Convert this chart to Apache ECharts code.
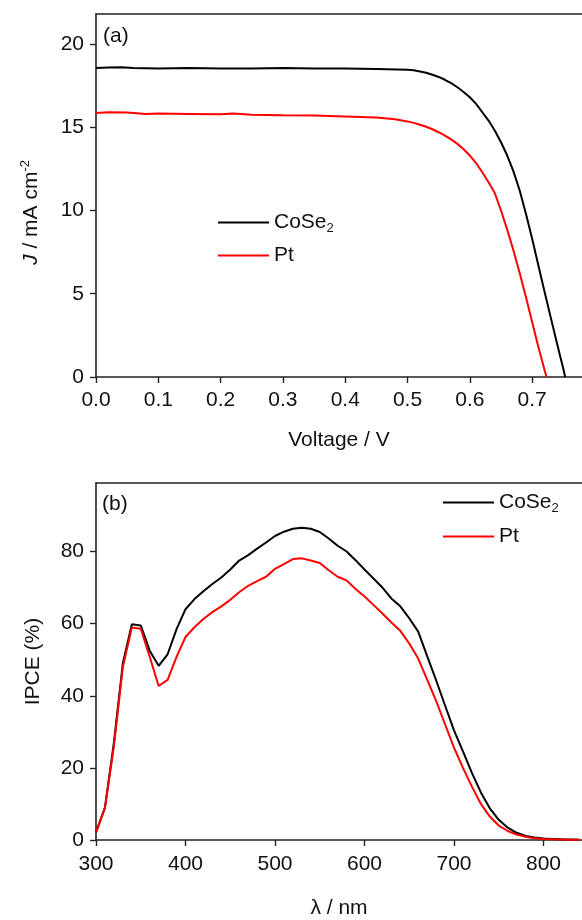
<!DOCTYPE html>
<html><head><meta charset="utf-8">
<script src="https://cdn.jsdelivr.net/npm/echarts@6/dist/echarts.min.js"></script>
<style>html,body{margin:0;padding:0;background:#fff}#c{width:582px;height:920px}</style>
</head><body><div id="c"></div>
<script>
// ---- Panel (a): J-V curves ----
const voltageCoSe2 = [0,0.02,0.04,0.06,0.1,0.15,0.2,0.25,0.3,0.35,0.4,0.45,0.5,0.51,0.52,0.53,0.54,0.55,0.56,0.57,0.58,0.59,0.6,0.61,0.62,0.63,0.64,0.65,0.66,0.67,0.68,0.69,0.7,0.71,0.72,0.73,0.74,0.75,0.753];
const jCoSe2 = [18.55,18.58,18.6,18.55,18.52,18.55,18.52,18.53,18.55,18.52,18.53,18.5,18.45,18.42,18.35,18.27,18.15,18.02,17.85,17.65,17.4,17.12,16.8,16.4,15.9,15.4,14.8,14.1,13.3,12.35,11.2,9.8,8.3,6.7,5.1,3.55,2.0,0.5,0];
const voltagePt = [0,0.02,0.05,0.08,0.1,0.15,0.2,0.22,0.25,0.3,0.35,0.4,0.45,0.48,0.5,0.51,0.52,0.53,0.54,0.55,0.56,0.57,0.58,0.59,0.6,0.61,0.62,0.63,0.64,0.65,0.66,0.67,0.68,0.69,0.7,0.71,0.72,0.723];
const jPt = [15.85,15.9,15.88,15.8,15.82,15.8,15.78,15.82,15.75,15.72,15.7,15.65,15.58,15.48,15.35,15.26,15.15,15.03,14.88,14.7,14.5,14.27,14.0,13.68,13.3,12.85,12.3,11.7,11.05,10.0,8.85,7.6,6.25,4.8,3.3,1.8,0.4,0];
const voltageTicks = [0,0.1,0.2,0.3,0.4,0.5,0.6,0.7];
const jTicks = [0,5,10,15,20];

// ---- Panel (b): IPCE spectra ----
const wavelength = [300,310,320,330,340,350,360,370,380,390,400,410,420,430,440,450,460,470,480,490,500,510,520,530,540,550,560,570,580,590,600,610,620,630,640,650,660,670,680,690,700,710,720,730,740,750,760,770,780,790,800,810,820,830,840];
const ipceCoSe2 = [2.1,9,27,49,59.8,59.5,52.5,48.3,51.5,58.5,64,66.8,69,71,72.8,75,77.5,79,80.8,82.5,84.3,85.5,86.3,86.6,86.3,85.4,83.6,81.6,80,77.6,75,72.5,70,67,64.8,61.5,57.8,51,44.3,37.3,30.4,24.6,18.6,13.2,8.8,5.6,3.4,2.0,1.1,0.7,0.4,0.3,0.2,0.15,0.1];
const ipcePt = [2.1,8.9,26,48,58.9,58.6,50.8,42.7,44.4,50.8,56.3,59,61.3,63.2,64.8,66.6,68.7,70.5,71.8,73,75.2,76.5,77.9,78.1,77.5,76.8,74.8,73,72,69.6,67.5,65.2,62.8,60.3,58,54.5,50.3,44.5,38.6,32.1,25.6,20,14.8,10,6.5,4.0,2.5,1.5,0.9,0.5,0.3,0.2,0.15,0.1,0.1];
const wavelengthTicks = [300,400,500,600,700,800];
const ipceTicks = [0,20,40,60,80];

const FONT = "'Liberation Sans', Arial, sans-serif";
const AX = '#222';
const zip = (xs, ys) => xs.map((x, i) => [x, ys[i]]);

function xAxisBase(grid, min, max, ticks, fmt, name, gap, margin) {
  return {
    type: 'value', gridIndex: grid, min: min, max: max, position: 'bottom',
    name: name, nameLocation: 'middle', nameGap: gap,
    nameTextStyle: { fontFamily: FONT, fontSize: 21, color: '#111' },
    axisLine: { show: true, onZero: false, lineStyle: { color: AX, width: 1.6 } },
    axisTick: { show: true, length: 6, lineStyle: { color: AX, width: 1.4 }, customValues: ticks },
    axisLabel: { fontFamily: FONT, fontSize: 21, color: '#111', margin: margin, customValues: ticks, formatter: fmt },
    splitLine: { show: false }
  };
}
function topBorder(grid, min, max) {
  return {
    type: 'value', gridIndex: grid, min: min, max: max, position: 'top',
    axisLine: { show: true, onZero: false, lineStyle: { color: AX, width: 1.6 } },
    axisTick: { show: false }, axisLabel: { show: false }, splitLine: { show: false }
  };
}
function yAxisBase(grid, min, max, ticks, name, rich, pad) {
  return {
    type: 'value', gridIndex: grid, min: min, max: max,
    name: name, nameLocation: 'middle', nameGap: 52,
    nameTextStyle: { fontFamily: FONT, fontSize: 21, color: '#111', rich: rich, padding: pad },
    axisLine: { show: true, onZero: false, lineStyle: { color: AX, width: 1.6 } },
    axisTick: { show: true, length: 6, lineStyle: { color: AX, width: 1.4 }, customValues: ticks },
    axisLabel: { fontFamily: FONT, fontSize: 21, color: '#111', margin: 12, customValues: ticks },
    splitLine: { show: false }
  };
}

const legendRich = {
  a: { fontFamily: FONT, fontSize: 21, color: '#111', lineHeight: 24 },
  s: { fontFamily: FONT, fontSize: 13, color: '#111', lineHeight: 24, padding: [12, 0, 0, 0] }
};
const legendFmt = n => n === 'CoSe2' ? '{a|CoSe}{s|2}' : '{a|' + n + '}';

const chart = echarts.init(document.getElementById('c'), null, { renderer: 'canvas' });
chart.setOption({
  backgroundColor: '#fff',
  animation: false,
  title: [
    { text: '(a)', left: 103, top: 26, padding: 0, textStyle: { fontFamily: FONT, fontSize: 21, fontWeight: 'normal', color: '#111' } },
    { text: '(b)', left: 102, top: 494, padding: 0, textStyle: { fontFamily: FONT, fontSize: 21, fontWeight: 'normal', color: '#111' } }
  ],
  legend: [
    { data: ['CoSe2', 'Pt'], orient: 'vertical', left: 218, top: 210, padding: 0, itemWidth: 51, itemHeight: 2, itemGap: 10, icon: 'rect',
      formatter: legendFmt, textStyle: { rich: legendRich }, selectedMode: false },
    { data: ['CoSe2', 'Pt'], orient: 'vertical', left: 443, top: 490, padding: 0, itemWidth: 51, itemHeight: 2, itemGap: 11, icon: 'rect',
      formatter: legendFmt, textStyle: { rich: legendRich }, selectedMode: false }
  ],
  grid: [
    { left: 96, top: 14, width: 486, height: 363 },
    { left: 96, top: 483, width: 486, height: 363 }
  ],
  xAxis: [
    xAxisBase(0, 0, 0.78, voltageTicks, v => v.toFixed(1), 'Voltage / V', 53, 13),
    topBorder(0, 0, 0.78),
    xAxisBase(1, 300, 843, wavelengthTicks, v => String(v), 'λ / nm', 58, 14),
    topBorder(1, 300, 843)
  ],
  yAxis: [
    yAxisBase(0, 0, 21.8, jTicks, '{i|J} / mA cm{sup|-2}', {
      i: { fontFamily: FONT, fontSize: 21, fontStyle: 'italic', color: '#111', lineHeight: 26 },
      sup: { fontFamily: FONT, fontSize: 13, color: '#111', lineHeight: 26, padding: [0, 0, 12, 0] }
    }, [0, 34, 0, 0]),
    yAxisBase(1, 0, 99, ipceTicks, 'IPCE (%)', {}, [0, 0, 0, 0])
  ],
  series: [
    { name: 'CoSe2', type: 'line', xAxisIndex: 0, yAxisIndex: 0, data: zip(voltageCoSe2, jCoSe2), showSymbol: false, symbol: 'none', color: '#000000', lineStyle: { color: '#000000', width: 2 } },
    { name: 'Pt', type: 'line', xAxisIndex: 0, yAxisIndex: 0, data: zip(voltagePt, jPt), showSymbol: false, symbol: 'none', color: '#ff0000', lineStyle: { color: '#ff0000', width: 2 } },
    { name: 'CoSe2', type: 'line', xAxisIndex: 2, yAxisIndex: 1, data: zip(wavelength, ipceCoSe2), showSymbol: false, symbol: 'none', color: '#000000', lineStyle: { color: '#000000', width: 2 } },
    { name: 'Pt', type: 'line', xAxisIndex: 2, yAxisIndex: 1, data: zip(wavelength, ipcePt), showSymbol: false, symbol: 'none', color: '#ff0000', lineStyle: { color: '#ff0000', width: 2 } }
  ]
});
</script></body></html>
